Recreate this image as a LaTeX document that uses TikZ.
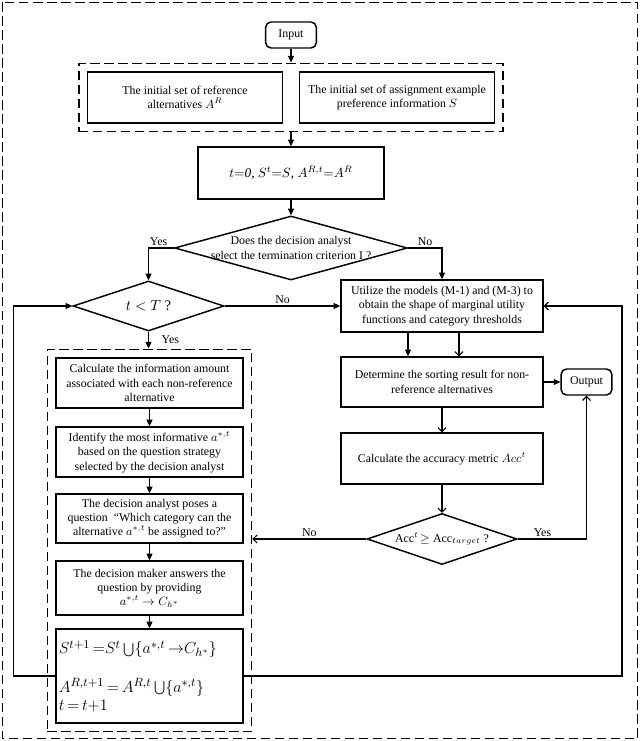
\documentclass[tikz,border=0pt]{standalone}
\usepackage{fontspec}
\setmainfont{Liberation Serif}
\usetikzlibrary{arrows.meta,shapes.geometric,fit}
\newcommand\eqfont{\fontsize{12.5}{13.5}\selectfont\lineskiplimit=-20pt\relax}

\begin{document}
\begin{tikzpicture}[x=0.75pt,y=-0.75pt,node font=\fontsize{8.9}{10.75}\selectfont,
        box/.style={draw,line width=1.1pt,align=center,inner sep=2pt},
        term/.style={box,rounded corners=4pt,minimum width=38pt,minimum height=19.5pt},
        ibox/.style={box,minimum width=146pt,minimum height=38.25pt},
        rbox/.style={box,minimum width=151.5pt,minimum height=38.25pt},
        lbox/.style={box,minimum width=140.25pt,minimum height=37.5pt},
        dec/.style={draw,line width=1.1pt,diamond,inner sep=0pt},
        grp/.style={draw,line width=1.1pt,dash pattern=on 7pt off 3.5pt,inner sep=6pt},
        arr/.style={line width=0.8pt,-{Triangle[length=5pt,width=4.5pt]}},
        arro/.style={line width=0.8pt,-{Straight Barb[length=3pt,width=6pt]}},
        lab/.style={inner sep=1.5pt}]
        \useasboundingbox (0,0) rectangle (640,741);
        \draw [grp] (2.5,2.5) rectangle (637.5,738.5);
        % input and initial data
        \node [term] (in) at (291,35) {Input};
        \node [ibox] (ini1) at (185,97.5) {The initial set of reference\\alternatives $A^R$};
        \node [ibox] (ini2) at (397,97.5) {The initial set of assignment example\\preference information $S$};
        \node [grp,fit=(ini1)(ini2)] (grp1) {};
        \node [box,minimum width=139.5pt,minimum height=39pt,font=\fontsize{10}{12}\selectfont] (init) at (291,173) {$t{=}\mathit{0}$, $S^t{=}S$, $A^{R,t}{=}A^R$};
        % decisions
        \node [dec,minimum width=174.75pt,minimum height=48pt] (q1) at (291,248) {};
        \node [align=center] (q1t) at (q1) {Does the decision analyst\\select the termination criterion I ?};
        \node [dec,minimum width=113.25pt,minimum height=37.5pt] (q2) at (148.5,306) {};
        \node [font=\fontsize{11}{13}\selectfont] (q2t) at (q2) {$t<T$ ?};
        % right column
        \node [rbox,minimum height=39pt] (util) at (442,306) {Utilize the models (M-1) and (M-3) to\\obtain the shape of marginal utility\\functions and category thresholds};
        \node [rbox,minimum height=37.5pt] (det) at (442,382) {Determine the sorting result for non-\\reference alternatives};
        \node [term] (out) at (586.5,382) {Output};
        \node [rbox] (acc) at (442,458.5) {Calculate the accuracy metric $Acc^t$};
        \node [dec,minimum width=112.5pt,minimum height=38.25pt] (q3) at (442,539) {};
        \node (q3t) at (q3) {$\mathrm{Acc}^t\!\geq\mathrm{Acc}_{target}$ ?};
        % left column
        \node [lbox] (c1) at (149.5,383) {Calculate the information amount\\associated with each non-reference\\alternative};
        \node [lbox] (c2) at (149.5,452) {Identify the most informative $a^{*,t}$\\based on the question strategy\\selected by the decision analyst};
        \node [lbox,minimum height=36.75pt] (c3) at (149.5,518.5) {The decision analyst poses a\\question~ “Which category can the\\alternative $a^{*,t}$ be assigned to?”};
        \node [lbox,minimum height=40.5pt] (c4) at (149.5,588) {The decision maker answers the\\question by providing\\$a^{*,t}\rightarrow C_{h^*}$};
        \node [lbox,minimum height=70.5pt,text width=136pt,align=left,font=\eqfont] (c5) at (149.5,676) {\mbox{$S^{t+1}\,{=}S^t\bigcup\{a^{*,t}\,{\rightarrow}C_{h^*}\}$}\\[15.5pt]\mbox{$A^{R,t+1}\,{=}\,A^{R,t}\bigcup\{a^{*,t}\}$}\\\mbox{$t\,{=}\,t{+}1$}};
        \node [grp,fit=(c1)(c5)] (grp2) {};
        % connectors
        \draw [arr] (in) -- (grp1);
        \draw [arr] (grp1) -- (init);
        \draw [arr] (init) -- (q1);
        \draw [arr] (q1.west) -| node [lab,above,pos=0.3] {Yes} (q2.north);
        \draw [arr] (q1.east) -| node [lab,above,pos=0.25] {No} (util.north);
        \draw [arr] (q2.east) -- node [lab,above] {No} (util.west);
        \draw [arr] (q2.south) -- node [lab,right,xshift=8pt] {Yes} (q2.south |- grp2.north);
        \draw [arr] ([xshift=-25.5pt]util.south) -- ([xshift=-25.5pt]det.north);
        \draw [arro] ([xshift=12.75pt]util.south) -- ([xshift=12.75pt]det.north);
        \draw [arr] (det) -- (out);
        \draw [arro] (det) -- (acc);
        \draw [arro] (acc) -- (q3);
        \draw [arro] (q3.west) -- node [lab,above] {No} (q3.west -| grp2.east);
        \draw [arro] (q3.east) -| node [lab,above,pos=0.18] {Yes} (out.south);
        \foreach \a/\b in {c1/c2,c2/c3,c3/c4,c4/c5}
            \draw [arr] (\a) -- (\b);
        % feedback loops
        \draw [arr] (c5.west) -- ++(-42,0) |- (q2.west);
        \coordinate (rl) at (622,676);
        \draw [arro] (c5.east) -- (rl) |- (util.east);
    \end{tikzpicture}
\end{document}
